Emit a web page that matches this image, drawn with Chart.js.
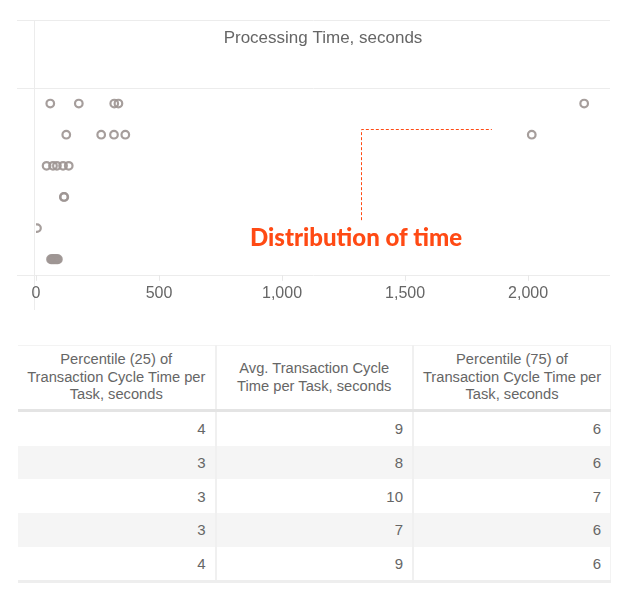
<!DOCTYPE html>
<html>
<head>
<meta charset="utf-8">
<script src="https://cdn.jsdelivr.net/npm/chart.js@4/dist/chart.umd.min.js"></script>
<style>
  html, body { margin: 0; padding: 0; background: #fff; }
  body { width: 642px; height: 593px; position: relative; overflow: hidden; font-family: "Liberation Sans", Arial, sans-serif; }
  #chartBox { position: absolute; left: 0; top: 0; width: 642px; height: 320px; }
  #stats { position: absolute; left: 18px; top: 345px; width: 593px; border-collapse: collapse; table-layout: fixed; color: #666; }
  #stats th { height: 63px; font-weight: normal; font-size: 14.7px; line-height: 17.5px; text-align: center; padding: 0 6px; border-top: 1px solid #f3f3f3; border-bottom: 3px solid #e4e4e4; }
  #stats td { height: 33.7px; padding: 0 9px 0 0; font-size: 15px; text-align: right; }
  #stats th + th, #stats td + td { border-left: 2px solid #f0f0f0; }
  #stats th:last-child, #stats td:last-child { border-right: 1px solid #f3f3f3; }
  #stats tr:nth-child(even) td { background: #f5f5f5; }
  #stats tbody tr:last-child td { border-bottom: 3px solid #eeeeee; }
</style>
</head>
<body>
<div id="chartBox"><canvas id="timeChart"></canvas></div>
<table id="stats">
  <thead><tr></tr></thead>
  <tbody></tbody>
</table>
<script>
// processing time per task (seconds), one array per row, top to bottom
const row1Times = [58, 174, 318, 335, 2228];
const row2Times = [123, 265, 317, 363, 2015];
const row3Times = [43, 69, 85, 110, 133];
const row4Times = [113, 115];
const row5Times = [4];
const row6Times = [61, 65, 69, 73, 77, 81, 85, 89];
const rows = [row1Times, row2Times, row3Times, row4Times, row5Times, row6Times];

const xTicks = [0, 500, 1000, 1500, 2000];
const xMax = 2333;

// table
const tableHeaders = [
  'Percentile (25) of Transaction Cycle Time per Task, seconds',
  'Avg. Transaction Cycle Time per Task, seconds',
  'Percentile (75) of Transaction Cycle Time per Task, seconds'
];
const p25Values = [4, 3, 3, 3, 4];
const avgValues = [9, 8, 10, 7, 9];
const p75Values = [6, 6, 7, 6, 6];

// annotation, in data units (x = seconds, y = row index)
const note = { text: 'Distribution of time', x: 1301, lineX: 1321, lineEndX: 1853, topRow: 0.824, bottomRow: 3.745, textRow: 4.574 };

const scatterData = [];
rows.forEach((times, r) => times.forEach(t => scatterData.push({ x: t, y: r })));

const frameLines = {
  id: 'frameLines',
  beforeDraw(chart) {
    const { ctx, chartArea } = chart;
    const top = chart.titleBlock.top;
    const left = chartArea.left - 19;
    ctx.save();
    ctx.strokeStyle = '#ececec';
    ctx.lineWidth = 1;
    ctx.beginPath();
    [top, chartArea.top, chartArea.bottom].forEach(y => {
      ctx.moveTo(left, Math.round(y) + 0.5);
      ctx.lineTo(chartArea.right, Math.round(y) + 0.5);
    });
    ctx.moveTo(Math.round(chartArea.left) - 1.5, top);
    ctx.lineTo(Math.round(chartArea.left) - 1.5, chart.height - 10);
    ctx.stroke();
    ctx.restore();
  }
};

const noteLabel = {
  id: 'noteLabel',
  afterDatasetsDraw(chart) {
    const { ctx } = chart;
    const xs = chart.scales.x, ys = chart.scales.y;
    const lx = Math.round(xs.getPixelForValue(note.lineX)) + 0.5;
    const ly = Math.round(ys.getPixelForValue(note.topRow)) + 0.5;
    ctx.save();
    ctx.strokeStyle = '#ff4a14';
    ctx.lineWidth = 1;
    ctx.setLineDash([3, 2]);
    ctx.beginPath();
    ctx.moveTo(lx, ys.getPixelForValue(note.bottomRow));
    ctx.lineTo(lx, ly);
    ctx.lineTo(xs.getPixelForValue(note.lineEndX), ly);
    ctx.stroke();
    ctx.setLineDash([]);
    ctx.fillStyle = '#ff4a14';
    ctx.font = '900 24px Lato, "Open Sans", sans-serif';
    ctx.textAlign = 'center';
    ctx.textBaseline = 'alphabetic';
    ctx.fillText(note.text, xs.getPixelForValue(note.x), ys.getPixelForValue(note.textRow));
    ctx.restore();
  }
};

new Chart(document.getElementById('timeChart'), {
  type: 'scatter',
  plugins: [frameLines, noteLabel],
  data: {
    datasets: [{
      data: scatterData,
      pointStyle: 'circle',
      pointRadius: 3.8,
      pointHoverRadius: 3.8,
      pointBorderWidth: 2.2,
      borderColor: 'rgba(158,150,148,0.92)',
      backgroundColor: 'rgba(0,0,0,0)',
      clip: 0
    }]
  },
  options: {
    responsive: true,
    maintainAspectRatio: false,
    animation: false,
    locale: 'en-US',
    layout: { padding: { top: 20, left: 36, right: 32, bottom: 14 } },
    scales: {
      x: {
        type: 'linear',
        min: 0,
        max: xMax,
        afterBuildTicks: (axis) => { axis.ticks = xTicks.map(v => ({ value: v })); },
        grid: { drawOnChartArea: false, drawTicks: true, tickLength: 6, color: '#e8e8e8' },
        border: { display: false },
        ticks: { color: '#666', font: { family: '"Liberation Sans", Arial, sans-serif', size: 16 }, padding: 3, maxRotation: 0 }
      },
      y: { type: 'linear', min: -0.5, max: 5.5, reverse: true, display: false }
    },
    plugins: {
      legend: { display: false },
      tooltip: { enabled: false },
      title: {
        display: true,
        text: 'Processing Time, seconds',
        fullSize: false,
        color: '#666',
        font: { family: '"Liberation Sans", Arial, sans-serif', size: 17, weight: 'normal' },
        padding: { top: 8.3, bottom: 39.3 }
      }
    }
  }
});

// build table from arrays
const headRow = document.querySelector('#stats thead tr');
tableHeaders.forEach(h => { const th = document.createElement('th'); th.textContent = h; headRow.appendChild(th); });
const body = document.querySelector('#stats tbody');
p25Values.forEach((v, i) => {
  const tr = document.createElement('tr');
  [v, avgValues[i], p75Values[i]].forEach(val => { const td = document.createElement('td'); td.textContent = val; tr.appendChild(td); });
  body.appendChild(tr);
});
</script>
</body>
</html>
